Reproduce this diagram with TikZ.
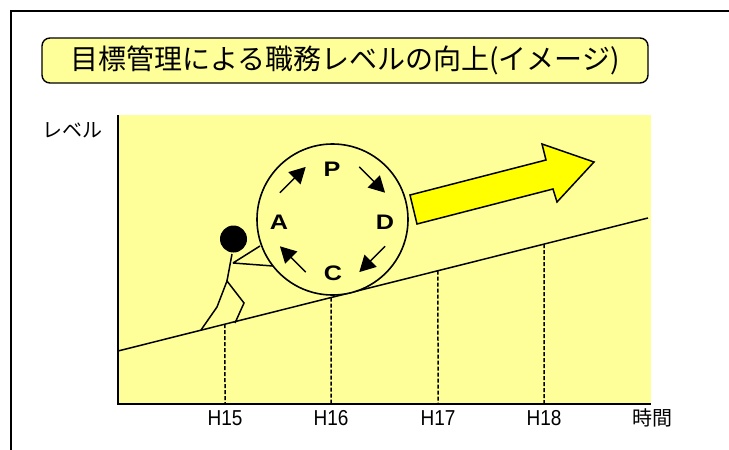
\documentclass[tikz,border=0pt]{standalone}
\usepackage{fontspec}
\setmainfont{Noto Sans CJK JP}
\newfontfamily\arialfont{Liberation Sans}
\usetikzlibrary{arrows.meta,calc}
\definecolor{paleyellow}{HTML}{FFFF99}
\definecolor{arrowyellow}{HTML}{FFFF00}

\begin{document}
\begin{tikzpicture}[x=1pt,y=-1pt,
  titlebox/.style={draw,line width=1.4pt,rounded corners=8pt,fill=paleyellow,minimum width=606pt,minimum height=45pt,font=\fontsize{28}{32}\selectfont},
  axislabel/.style={font=\fontsize{20}{24}\selectfont},
  yearlabel/.style={font=\arialfont\fontsize{20}{24}\selectfont,xscale=0.95,yscale=1.08,transform shape},
  phase/.style={font=\arialfont\bfseries\fontsize{21}{24}\selectfont,xscale=1.2,transform shape},
  cycarrow/.style={line width=1.4pt,-{Triangle[length=16pt,width=17pt]}}]
\useasboundingbox(0,0)rectangle(729,450);
\draw[line width=1.8pt](11,450)|-(729,11);
\node[titlebox](title)at(345,60.5){目標管理による職務レベルの向上(イメージ)};
\path[draw=none,fill=paleyellow](118,115)rectangle(651,404);
\coordinate(lo)at(118,351);
\coordinate(hi)at(648,218);
\draw[line width=1.5pt](lo)--(hi);
\foreach\x/\n in{225/15,331/16,438/17,544/18}{
  \draw[line width=1.5pt,dash pattern=on 4pt off 2pt]($(lo)!{(\x-118)/530}!(hi)$)--(\x,404);
  \node[yearlabel](h\n)at(\x,418){H\n};}
\draw[line width=2.2pt](118,115)|-(651,404);
\node[axislabel](level)at(72,130){レベル};
\node[axislabel](time)at(652,418){時間};
\node[draw,circle,line width=1.6pt,fill=paleyellow,minimum size=151pt,inner sep=0pt](pdca)at(332.5,219.5){};
\node[phase](P)at(332,169){P};
\node[phase](D)at(385,222){D};
\node[phase](C)at(333,273){C};
\node[phase](A)at(279,222){A};
\foreach\a in{135,45,-45,-135}
  \draw[cycarrow]($(pdca.center)+(\a+18:59pt)$)--($(pdca.center)+(\a-18:59pt)$);
\fill(233.5,239)circle(13.5pt);
\draw[line width=1.5pt](232,254)--(227,281)(233,263)--(260,246)(233,263)--(273,266);
\draw[line width=1.5pt](201,330)--(217,307)--(227,281)--(244,303)--(235,323);
\draw[line width=1.5pt,fill=arrowyellow](417,224)--(410,195)--(546,160)--(542,144)--(594,162)--(557,202)--(553,189)--cycle;
\end{tikzpicture}
\end{document}
